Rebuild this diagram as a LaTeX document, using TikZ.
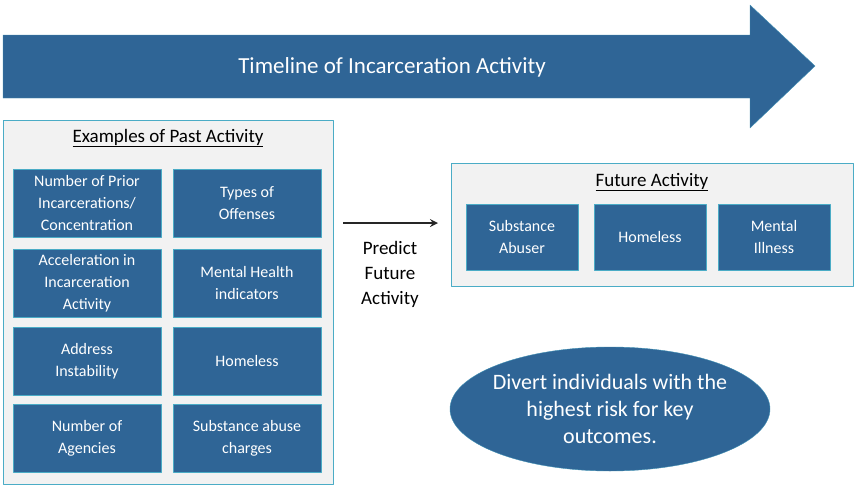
\documentclass[tikz,border=0pt]{standalone}
\usepackage{fontspec}
\setmainfont{Carlito}
\usetikzlibrary{positioning,shapes.geometric}
\definecolor{boxblue}{HTML}{2F6596}
\definecolor{rimteal}{HTML}{4BACC6}
\definecolor{panelgray}{HTML}{F2F2F2}
\tikzset{
  pastbox/.style={draw=rimteal,line width=1pt,fill=boxblue,text=white,minimum width=148pt,minimum height=68pt,align=center,inner sep=2pt,font=\fontsize{16}{22}\selectfont},
  futbox/.style={pastbox,minimum width=112pt,minimum height=66pt},
  panel/.style={draw=rimteal,line width=1pt,fill=panelgray}
}
\begin{document}
\begin{tikzpicture}[x=1pt,y=-1pt,line join=round]
\useasboundingbox (0,0) rectangle (860,490);
% timeline arrow
\draw[draw=rimteal!60!boxblue,fill=boxblue] (3,35) -- (750,35) -- (750,5) -- (815,66) -- (750,128) -- (750,98) -- (3,98) -- cycle;
\node[text=white,font=\fontsize{23}{27}\selectfont] (timeline) at (392,67) {Timeline of Incarceration Activity};
% past activity panel
\draw[panel] (3,120) rectangle (333,484);
\node[font=\fontsize{19}{23}\selectfont] (pasttitle) at (168,138) {\underline{Examples of Past Activity}};
\node[pastbox] (prior) at (87,203) {Number of Prior\\Incarcerations/\\Concentration};
\node[pastbox] (offense) at (247,203) {Types of\\Offenses};
\node[pastbox] (accel) at (87,283) {Acceleration in\\Incarceration\\Activity};
\node[pastbox] (mental) at (247,283) {Mental Health\\indicators};
\node[pastbox] (address) at (87,361) {Address\\Instability};
\node[pastbox] (homeless) at (247,361) {Homeless};
\node[pastbox] (agencies) at (87,438) {Number of\\Agencies};
\node[pastbox] (substance) at (247,438) {Substance abuse\\charges};
% future activity panel
\draw[panel] (451,163) rectangle (853,286);
\node[font=\fontsize{19}{23}\selectfont] (futtitle) at (652,182) {\underline{Future Activity}};
\node[futbox] (abuser) at (522,237) {Substance\\Abuser};
\node[futbox] (fhomeless) at (650,237) {Homeless};
\node[futbox] (illness) at (774,237) {Mental\\Illness};
% prediction arrow
\coordinate (pfrom) at (343,223);
\coordinate (pto) at (438,223);
\draw[line width=2.5pt,draw=black!85,-stealth] (pfrom) -- (pto);
\node[align=center,font=\fontsize{19}{25}\selectfont] (predict) at (390,274) {Predict\\Future\\Activity};
% divert ellipse
\node[ellipse,draw=rimteal!60!boxblue,fill=boxblue,text=white,inner xsep=-12pt,inner ysep=0pt,minimum width=320pt,minimum height=124pt,align=center,font=\fontsize{22}{27}\selectfont] (divert) at (610,409) {Divert individuals with the\\highest risk for key\\outcomes.};
\end{tikzpicture}
\end{document}
